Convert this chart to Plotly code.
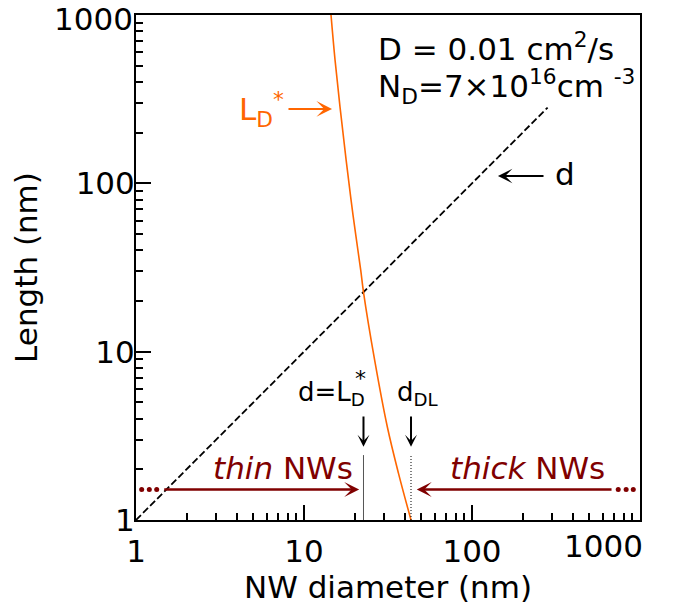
import math
import plotly.graph_objects as go

# L_D* versus NW diameter (nm -> nm)
ld_diam = [14.48, 15.30, 16.43, 17.81, 19.57, 21.75, 22.6, 26.32, 31.32, 36.48, 43.35]
ld_len = [1000, 541, 276.8, 137.7, 64.9, 30.6, 22.6, 8.93, 3.58, 1.90, 1.0]

# reference line: length equal to the diameter
d_diam = [1, 282]
d_len = [1, 282]

# characteristic diameters
d_cross = 22.6   # d = L_D*
d_dl = 43.35     # d_DL
marker_top = 2.43

# thin / thick NW regime arrows
regime_y = 1.52
thin_arrow = [1.442, 21.3]
thick_arrow = [691, 46.9]
thin_dots = [1.081, 1.200, 1.328]
thick_dots = [742, 827, 912]

major_ticks = [1, 10, 100, 1000]
x_tick_text = ["1", "10", "100", ""]
y_tick_text = ["1", "10", "100", ""]
end_label = "1000"
minor_ticks = [2, 3, 4, 5, 6, 7, 8, 9,
               20, 30, 40, 50, 60, 70, 80, 90,
               200, 300, 400, 500, 600, 700, 800, 900]

FONT = "DejaVu Sans"
ORANGE = "#ff6600"
DARKRED = "#800000"
L = math.log10

# plot area in page pixels, used to place the text labels
PX_L, PX_R, PX_T, PX_B = 136, 640, 15, 520


def fx(px):
    return (px - PX_L) / (PX_R - PX_L)


def fy(py):
    return (PX_B - py) / (PX_B - PX_T)


fig = go.Figure()

fig.add_trace(go.Scatter(x=d_diam, y=d_len, mode="lines",
                         line=dict(color="black", width=1.8, dash="7px,3px")))
fig.add_trace(go.Scatter(x=ld_diam, y=ld_len, mode="lines",
                         line=dict(color=ORANGE, width=1.6, shape="spline", smoothing=1.0)))
fig.add_trace(go.Scatter(x=[d_cross, d_cross], y=[1, marker_top], mode="lines",
                         line=dict(color="#555555", width=1)))
fig.add_trace(go.Scatter(x=[d_dl, d_dl], y=[1, marker_top], mode="lines",
                         line=dict(color="black", width=1, dash="1px,2px")))
fig.add_trace(go.Scatter(x=thin_dots + thick_dots, y=[regime_y] * 6, mode="markers",
                         marker=dict(color=DARKRED, size=5)))

ann = []


def arrow(x0, y0, x1, y1, color, width=2, size=1.0):
    ann.append(dict(x=L(x1), y=L(y1), ax=L(x0), ay=L(y0), xref="x", yref="y",
                    axref="x", ayref="y", text="", showarrow=True, arrowhead=3,
                    arrowsize=size, arrowwidth=width, arrowcolor=color))


def label(px, py, text, size, color="black", xanchor="left", yanchor="middle"):
    ann.append(dict(x=fx(px), y=fy(py), xref="x domain", yref="y domain", text=text,
                    showarrow=False, xanchor=xanchor, yanchor=yanchor,
                    font=dict(family=FONT, size=size, color=color)))


# regime arrows
arrow(thin_arrow[0], regime_y, thin_arrow[1], regime_y, DARKRED, width=2.5, size=1.0)
arrow(thick_arrow[0], regime_y, thick_arrow[1], regime_y, DARKRED, width=2.5, size=1.0)
# downward markers for d = L_D* and d_DL
arrow(d_cross, 4.2, d_cross, 2.72, "black", width=2, size=1.0)
arrow(d_dl, 4.2, d_dl, 2.72, "black", width=2, size=1.0)
# curve pointers
arrow(7.92, 276.8, 14.68, 276.8, ORANGE, width=2, size=1.3)
arrow(272, 110.6, 142.8, 110.6, "black", width=2, size=1.2)

label(376, 47, "D = 0.01 cm<sup>2</sup>/s", 31)
label(376, 86, "N<sub>D</sub>=7×10<sup>16</sup>cm <sup>-3</sup>", 31)
label(237, 110, "L<sub>D</sub><sup>*</sup>", 31, color=ORANGE)
label(553, 174, "d", 31)
label(296, 393, "d=L<sub>D</sub>", 26)
label(360, 378, "*", 22, xanchor="center")
label(395, 393, "d<sub>DL</sub>", 26)
label(355, 468, "<i>thin</i> NWs", 31, color=DARKRED, xanchor="right")
label(448, 468, "<i>thick</i> NWs", 31, color=DARKRED)

# end-of-axis tick labels, pulled inside the page
ann.append(dict(x=3, y=0, xref="x", yref="paper", text=end_label, showarrow=False,
                xanchor="right", yanchor="top", xshift=5, yshift=-6,
                font=dict(family=FONT, size=31, color="black")))
ann.append(dict(x=0, y=3, xref="paper", yref="y", text=end_label, showarrow=False,
                xanchor="right", yanchor="middle", xshift=-1, yshift=-4,
                font=dict(family=FONT, size=31, color="black")))

axis_common = dict(
    type="log", range=[0, 3], showline=True, linecolor="black", linewidth=2,
    mirror=True, showgrid=False, zeroline=False, automargin=False,
    ticks="inside", ticklen=15, tickwidth=1.5, tickcolor="black",
    tickvals=major_ticks, ticklabeloverflow="allow",
    tickfont=dict(family=FONT, size=31, color="black"),
    minor=dict(ticks="inside", ticklen=7, tickwidth=1.5, tickcolor="black",
               tickvals=minor_ticks, showgrid=False),
)

fig.update_layout(
    width=674, height=611,
    margin=dict(l=PX_L, r=674 - PX_R, t=PX_T, b=611 - PX_B, autoexpand=False),
    paper_bgcolor="white", plot_bgcolor="white",
    showlegend=False,
    font=dict(family=FONT, size=31, color="black"),
    xaxis=dict(axis_common, ticktext=x_tick_text, ticklabelstandoff=3,
               title=dict(text="NW diameter (nm)", standoff=0,
                          font=dict(family=FONT, size=31))),
    yaxis=dict(axis_common, ticktext=y_tick_text, ticklabelstandoff=-7,
               title=dict(text="Length (nm)", standoff=29,
                          font=dict(family=FONT, size=31))),
    annotations=ann,
)

fig.write_html("out.html")
